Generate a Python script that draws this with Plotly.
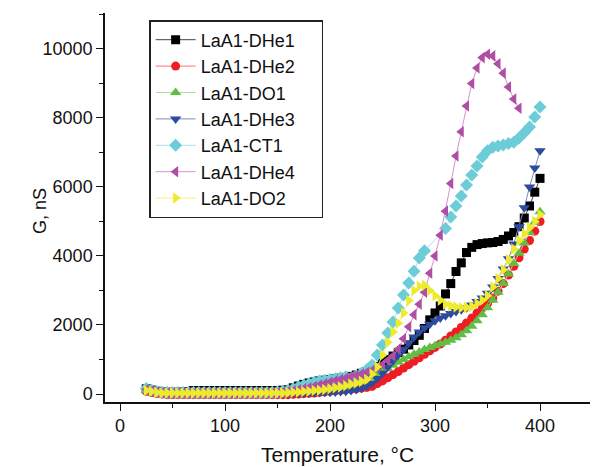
import plotly.graph_objects as go

# temperature, degC (5 degree steps)
temp = [25, 30, 35, 40, 45, 50, 55, 60, 65, 70, 75, 80, 85, 90, 95, 100,
        105, 110, 115, 120, 125, 130, 135, 140, 145, 150, 155, 160, 165, 170,
        175, 180, 185, 190, 195, 200, 205, 210, 215, 220, 225, 230, 235, 240,
        245, 250, 255, 260, 265, 270, 275, 280, 285, 290, 295, 300, 305, 310,
        315, 320, 325, 330, 335, 340, 345, 350, 355, 360, 365, 370, 375, 380,
        385, 390, 395, 400]

# conductance G, nS
dhe1 = [150, 110, 80, 60, 50, 50, 50, 60, 70, 100, 100, 100, 100, 100, 100, 100,
        100, 100, 100, 100, 100, 100, 100, 100, 100, 100, 110, 120, 180, 230,
        280, 320, 350, 380, 400, 420, 440, 460, 480, 510, 550, 600, 650, 720,
        800, 900, 1000, 1100, 1200, 1300, 1420, 1550, 1700, 1900, 2150, 2350, 2550, 2900,
        3200, 3550, 3800, 4100, 4250, 4330, 4360, 4380, 4390, 4420, 4480, 4580, 4680, 4850,
        5100, 5450, 5850, 6250]
dhe2 = [80, 40, 10, 0, -20, -20, -20, -20, -20, -20, -20, -20, -20, -20, -20, -20,
        -20, -20, -20, -20, -20, -20, -20, -20, -20, -20, -20, -20, -10, 0,
        10, 20, 30, 50, 60, 80, 90, 110, 120, 140, 150, 170, 190, 220,
        300, 380, 470, 560, 650, 750, 850, 950, 1050, 1150, 1250, 1350, 1450, 1560,
        1680, 1800, 1930, 2060, 2200, 2350, 2480, 2620, 2780, 2980, 3200, 3450, 3700, 3950,
        4200, 4450, 4720, 5000]
do1 = [100, 60, 40, 30, 30, 30, 30, 30, 30, 30, 30, 30, 30, 30, 30, 30,
       30, 30, 30, 30, 30, 30, 30, 30, 30, 30, 40, 40, 50, 60,
       70, 80, 100, 120, 140, 170, 190, 220, 250, 280, 320, 360, 420, 480,
       560, 650, 740, 830, 920, 1000, 1080, 1150, 1220, 1290, 1350, 1400, 1450, 1500,
       1560, 1630, 1720, 1830, 1960, 2120, 2300, 2500, 2720, 2950, 3200, 3480, 3780, 4080,
       4380, 4680, 4980, 5280]
dhe3 = [100, 60, 40, 20, 20, 20, 20, 20, 20, 20, 20, 20, 20, 20, 20, 20,
        20, 20, 20, 20, 20, 20, 20, 20, 20, 20, 20, 20, 20, 30,
        30, 30, 40, 40, 50, 50, 60, 70, 80, 100, 130, 170, 230, 320,
        450, 600, 780, 960, 1130, 1300, 1480, 1650, 1800, 1920, 2020, 2120, 2200, 2270,
        2330, 2390, 2440, 2500, 2580, 2680, 2780, 2920, 3100, 3350, 3620, 3920, 4350, 4850,
        5400, 6000, 6550, 7050]
ct1 = [160, 110, 70, 50, 40, 40, 40, 40, 40, 40, 40, 40, 40, 40, 40, 40,
       40, 40, 40, 40, 40, 40, 40, 40, 50, 60, 80, 100, 150, 200,
       250, 300, 340, 380, 400, 420, 440, 470, 500, 450, 520, 600, 700, 840,
       1130, 1420, 1770, 2090, 2490, 2870, 3220, 3560, 3940, 4150, None, None, None, 4800,
       5130, 5450, 5740, 6060, 6350, 6610, 6870, 7050, 7150, 7190, 7220, 7260, 7300, 7420,
       7570, 7740, 8030, 8320]
dhe4 = [130, 90, 60, 40, 30, 30, 30, 30, 30, 30, 30, 30, 30, 30, 30, 30,
        30, 30, 30, 30, 30, 30, 30, 30, 30, 40, 50, 70, 90, 120,
        150, 180, 220, 260, 300, 340, 380, 420, 460, 500, 540, 580, 630, 680,
        760, 850, 970, 1100, 1300, 1600, 1950, 2300, 2600, 2950, 3500, 4000, 4600, 5300,
        6100, 6900, 7600, 8350, 9000, 9450, 9750, 9850, 9800, 9570, 9300, 8900, 8550, 8280,
        None, None, None, None]
do2 = [100, 70, 40, 30, 30, 30, 30, 30, 30, 30, 30, 30, 30, 30, 30, 30,
       30, 30, 30, 30, 30, 30, 30, 30, 30, 30, 30, 40, 50, 60,
       70, 80, 100, 110, 130, 150, 180, 200, 240, 280, 320, 360, 420, 580,
       780, 1130, 1500, 1800, 2050, 2350, 2700, 3000, 3120, 3150, 3000, 2850, 2720, 2600,
       2550, 2520, 2500, 2510, 2540, 2620, 2720, 2850, 3100, 3350, 3600, 3900, 4200, 4450,
       4650, 4820, 5000, 5200]

names = ["LaA1-DHe1", "LaA1-DHe2", "LaA1-DO1", "LaA1-DHe3", "LaA1-CT1", "LaA1-DHe4", "LaA1-DO2"]
series = [dhe1, dhe2, do1, dhe3, ct1, dhe4, do2]
symbols = ["square", "circle", "triangle-up", "triangle-down", "diamond", "triangle-left", "triangle-right"]
colors = ["#000000", "#f01c24", "#62bd45", "#2d4b9c", "#6ccdd8", "#b04ea4", "#eeea2c"]
line_colors = ["#444444", "#ff7070", "#b0dca0", "#7a8cc0", "#a8e2ea", "#d890d0", "#f2f080"]
sizes = [9, 9, 10, 10, 10, 10, 10]

fig = go.Figure()
for i in range(len(names)):
    # white tail just pads the legend box on the right
    fig.add_trace(go.Scatter(
        x=temp, y=series[i], name=names[i] + "<span style='color:white'>__</span>",
        legendgroup=names[i], mode="lines+markers", connectgaps=True,
        line=dict(color=line_colors[i], width=1),
        marker=dict(symbol=symbols[i], size=sizes[i], color=colors[i], line=dict(width=0)),
    ))

fnt = "Arial, Liberation Sans"
fig.update_layout(
    width=593, height=467,
    margin=dict(l=105, r=3, t=13, b=65),
    paper_bgcolor="white", plot_bgcolor="white",
    font=dict(family=fnt, size=18, color="#111"),
    showlegend=True,
    legend=dict(x=0.091, y=0.982, xanchor="left", yanchor="top",
                bordercolor="#222", borderwidth=1.5, bgcolor="white",
                font=dict(family=fnt, size=18, color="#111"),
                tracegroupgap=0, itemwidth=40),
    xaxis=dict(range=[-14.3, 447.6], showline=True, linecolor="#111", linewidth=1.5,
               ticks="outside", ticklen=7, tickwidth=1.3, tickcolor="#111",
               tick0=0, dtick=100, showgrid=False, zeroline=False, automargin=False,
               minor=dict(ticks="outside", ticklen=4, dtick=50, tickcolor="#111", tickwidth=1.3)),
    yaxis=dict(range=[-232, 11043], showline=True, linecolor="#111", linewidth=1.5,
               ticks="outside", ticklen=7, tickwidth=1.3, tickcolor="#111",
               tick0=0, dtick=2000, tickformat="d", showgrid=False, zeroline=False, automargin=False,
               minor=dict(ticks="outside", ticklen=4, dtick=1000, tickcolor="#111", tickwidth=1.3)),
    annotations=[
        dict(text="Temperature, °C", xref="paper", yref="paper", x=0.479, y=-0.136,
             xanchor="center", yanchor="middle", showarrow=False,
             font=dict(family=fnt, size=21, color="#111")),
        dict(text="G, nS", xref="paper", yref="paper", x=-0.134, y=0.491, textangle=-90,
             xanchor="center", yanchor="middle", showarrow=False,
             font=dict(family=fnt, size=18, color="#111")),
    ],
)

fig.write_html("out.html", config={"displayModeBar": False},
               post_script="document.body.style.margin='0';")
